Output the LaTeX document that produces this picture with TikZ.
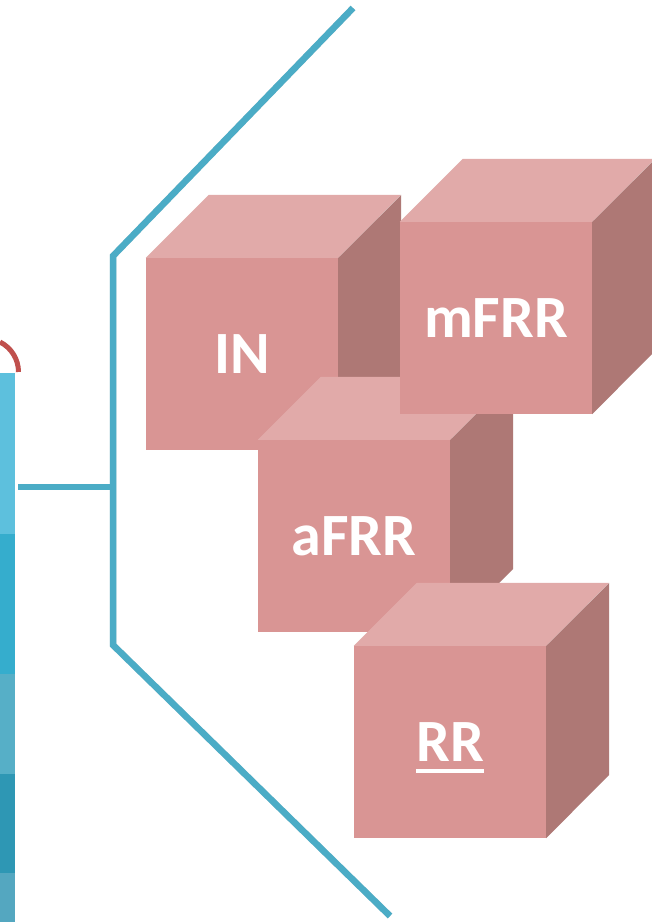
\documentclass[tikz,border=0pt]{standalone}
\usepackage{fontspec}
\setsansfont{Carlito}

\definecolor{bracketBlue}{HTML}{4BACC6}
\definecolor{hookRed}{HTML}{C0504D}
\definecolor{barA}{HTML}{5DC0DD}
\definecolor{barB}{HTML}{35ADCD}
\definecolor{barC}{HTML}{56AFC7}
\definecolor{barD}{HTML}{2E97B4}
\definecolor{barE}{HTML}{54A7C0}
\definecolor{cubeRose}{HTML}{D99594}
\definecolor{cubeLight}{HTML}{E1AAA9}
\definecolor{cubeDark}{HTML}{AE7875}

\tikzset{
  bracket/.style={draw=bracketBlue, line width=6.5pt},
  lineshadow/.style={draw=black, opacity=0.15, line width=6.5pt, shift={(2,3)}},
  cubeface/.style={fill=cubeRose, minimum width=192pt, minimum height=192pt,
    inner sep=0pt, text=white, font=\sffamily\bfseries\fontsize{60}{60}\selectfont},
  cubetop/.style={fill=cubeLight},
  cubeside/.style={fill=cubeDark}
}

\begin{document}
\begin{tikzpicture}[x=1pt,y=-1pt]
\fill[white] (0,0) rectangle (652,922);
\clip (0,0) rectangle (652,922);

% One cube: name, centre of front face, label
\def\blockcube#1#2#3{
\node[cubeface] (#1) at #2 {#3};
\fill[cubetop] (#1.north west) -- ++(63,-63) -- ++(192,0) -- (#1.north east) -- cycle;
\fill[cubeside] (#1.north east) -- ++(63,-63) -- ++(0,192) -- (#1.south east) -- cycle;
}

% Stacked bar on the left edge
\fill[barA] (0,373) rectangle (15,534);
\fill[barB] (0,534) rectangle (15,674);
\fill[barC] (0,674) rectangle (15,774);
\fill[barD] (0,774) rectangle (15,873);
\fill[barE] (0,873) rectangle (15,922);
\draw[hookRed, line width=5pt] (0,342) arc[start angle=-63.4, end angle=0, radius=33.5];

% Bracket points
\coordinate (topend) at (353,8);
\coordinate (topbend) at (113,256);
\coordinate (fork) at (113,487);
\coordinate (lowbend) at (113,645);
\coordinate (lowend) at (390,916);
\coordinate (barend) at (18,487);

% Shadows, then the bracket itself
\draw[lineshadow] (topend) -- (topbend) -- (lowbend) -- (lowend);
\draw[lineshadow] (barend) -- (fork);
\draw[bracket] (topend) -- (topbend) -- (lowbend) -- (lowend);
\draw[bracket] (barend) -- (fork);

% Cubes, back to front
\blockcube{in}{(242,354)}{IN}
\blockcube{afrr}{(354,536)}{aFRR}
\blockcube{mfrr}{(496,318)}{mFRR}
\blockcube{rr}{(450,742)}{\setbox0\hbox{RR}\rlap{\smash{\rule[-12pt]{\wd0}{4pt}}}\box0}
\end{tikzpicture}
\end{document}
